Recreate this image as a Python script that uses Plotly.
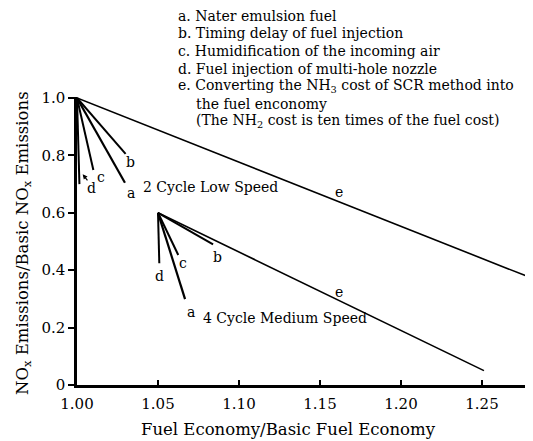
import plotly.graph_objects as go

# ---- data ----
methods = ["a", "b", "c", "d", "e"]
origin_2cycle = (1.0, 1.0)
end_x_2cycle = [1.0296, 1.030, 1.0101, 1.0015, 1.2786]
end_y_2cycle = [0.705, 0.805, 0.749, 0.700, 0.377]
label_x_2cycle = [1.0331, 1.0333, 1.0148, 1.0087, 1.1619]
label_y_2cycle = [0.670, 0.778, 0.725, 0.688, 0.671]

origin_4cycle = (1.05, 0.6)
end_x_4cycle = [1.0667, 1.084, 1.0625, 1.0508, 1.2512]
end_y_4cycle = [0.299, 0.490, 0.453, 0.424, 0.050]
label_x_4cycle = [1.0702, 1.0866, 1.0656, 1.0508, 1.1619]
label_y_4cycle = [0.255, 0.445, 0.426, 0.380, 0.325]

group_names = ["2 Cycle Low Speed", "4 Cycle Medium Speed"]
group_label_pos = [(1.0393, 0.689), (1.0765, 0.232)]

legend_lines = [
    "a. Nater emulsion fuel",
    "b. Timing delay of fuel injection",
    "c. Humidification of the incoming air",
    "d. Fuel injection of multi-hole nozzle",
    "e. Converting the NH<sub>3</sub> cost of SCR method into",
    "the fuel enconomy",
    "(The NH<sub>2</sub> cost is ten times of the fuel cost)",
]
legend_indent = [False, False, False, False, False, True, True]

x_ticks = [1.00, 1.05, 1.10, 1.15, 1.20, 1.25]
x_tick_text = ["1.00", "1.05", "1.10", "1.15", "1.20", "1.25"]
y_ticks = [0, 0.2, 0.4, 0.6, 0.8, 1.0]
y_tick_text = ["0", "0.2", "0.4", "0.6", "0.8", "1.0"]

x_title = "Fuel Economy/Basic Fuel Economy"
y_title = "NO<sub>x</sub> Emissions/Basic NO<sub>x</sub> Emissions"

FONT = "DejaVu Serif"
widths = [2.2, 2.0, 2.0, 2.0, 1.6]

# page body has an 8px default margin: figure is drawn 8px in from the corner
W, H = 525, 433
ML, MT, MR, MB = 69, 89, 2, 56
PW, PH = W - ML - MR, H - MT - MB   # 454 x 288

def px_to_paper(px, py):
    # px, py measured in the 533x441 window
    return (px - 77) / PW, (385 - py) / PH

fig = go.Figure()
for origin, ex, ey in [(origin_2cycle, end_x_2cycle, end_y_2cycle),
                       (origin_4cycle, end_x_4cycle, end_y_4cycle)]:
    for i, m in enumerate(methods):
        fig.add_trace(go.Scatter(
            x=[origin[0], ex[i]], y=[origin[1], ey[i]],
            mode="lines", line=dict(color="black", width=widths[i]),
            showlegend=False, hoverinfo="skip"))

for lx, ly in [(label_x_2cycle, label_y_2cycle), (label_x_4cycle, label_y_4cycle)]:
    for i, m in enumerate(methods):
        fig.add_annotation(x=lx[i], y=ly[i], text=m, showarrow=False,
                           font=dict(family=FONT, size=14, color="black"))

for name, (gx, gy) in zip(group_names, group_label_pos):
    fig.add_annotation(x=gx, y=gy, text=name, showarrow=False, xanchor="left",
                       font=dict(family=FONT, size=14, color="black"))

# arrow pointing at line d (2 cycle)
fig.add_annotation(x=1.0035, y=0.734, ax=1.0072, ay=0.708, axref="x", ayref="y",
                   text="", showarrow=True, arrowhead=2, arrowsize=0.8,
                   arrowwidth=1.2, arrowcolor="black")

# explanatory text block above the plot
line_py = [16, 33.5, 51, 68.5, 86, 103.5, 121]
for txt, ind, py in zip(legend_lines, legend_indent, line_py):
    xp, yp = px_to_paper(194 if ind else 176, py)
    fig.add_annotation(x=xp, y=yp, xref="paper", yref="paper", text=txt,
                       showarrow=False, xanchor="left", yanchor="middle",
                       font=dict(family=FONT, size=14, color="black"))

# axis titles
xp, yp = px_to_paper(288, 429)
fig.add_annotation(x=xp, y=yp, xref="paper", yref="paper", text=x_title,
                   showarrow=False, xanchor="center", yanchor="middle",
                   font=dict(family=FONT, size=16.5, color="black"))
xp, yp = px_to_paper(23, 243)
fig.add_annotation(x=xp, y=yp, xref="paper", yref="paper", text=y_title,
                   showarrow=False, xanchor="center", yanchor="middle", textangle=-90,
                   font=dict(family=FONT, size=16.5, color="black"))

fig.update_layout(
    width=W, height=H,
    margin=dict(l=ML, r=MR, t=MT, b=MB, autoexpand=False),
    paper_bgcolor="white", plot_bgcolor="white",
    font=dict(family=FONT, size=14, color="black"),
    showlegend=False,
)
fig.update_xaxes(range=[1.0, 1.0 + PW / 1620], tickvals=x_ticks, ticktext=x_tick_text,
                 ticks="inside", ticklen=5, tickwidth=2, tickcolor="black",
                 ticklabelstandoff=3,
                 showline=True, linecolor="black", linewidth=2.5,
                 showgrid=False, zeroline=False, automargin=False,
                 tickfont=dict(family=FONT, size=15))
fig.update_yaxes(range=[0, PH / 287], tickvals=y_ticks, ticktext=y_tick_text,
                 ticks="outside", ticklen=6, tickwidth=2, tickcolor="black",
                 showline=True, linecolor="black", linewidth=2.5,
                 showgrid=False, zeroline=False, automargin=False,
                 tickfont=dict(family=FONT, size=15))

fig.write_html("out.html")
